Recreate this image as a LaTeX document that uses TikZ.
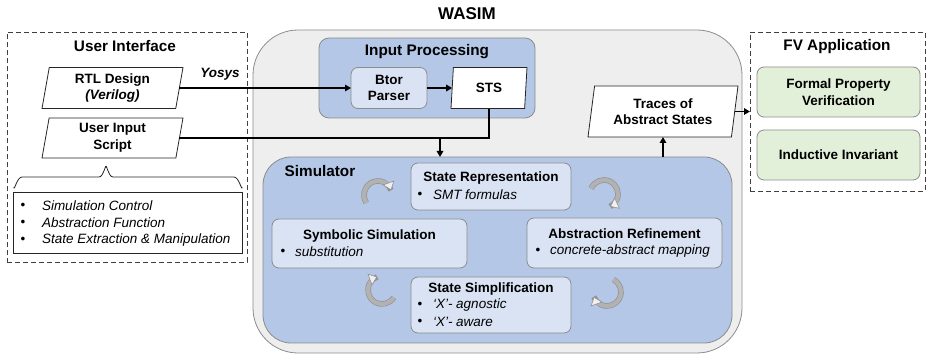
\documentclass[tikz,border=0pt]{standalone}
\usepackage{fontspec}
\setmainfont{Liberation Sans}
\usetikzlibrary{arrows.meta,shapes.geometric,calc}
\definecolor{cBlue}{HTML}{B4C7E7}
\definecolor{cLight}{HTML}{DAE3F3}
\definecolor{cGreen}{HTML}{E2F0D9}
\definecolor{cGray}{HTML}{EEEEEE}
\definecolor{cEdge}{HTML}{8C8C8C}
\begin{document}
\begin{tikzpicture}[x=1pt,y=-1pt,
  every node/.style={inner sep=0pt, outer sep=0pt},
  ttl/.style={font=\fontsize{15.3}{18}\selectfont\bfseries},
  bigttl/.style={font=\fontsize{17}{20}\selectfont\bfseries},
  btxt/.style={font=\fontsize{13.5}{16.5}\selectfont\bfseries, align=center},
  itxt/.style={font=\fontsize{13.5}{16.5}\selectfont\itshape, anchor=west},
  bul/.style={font=\fontsize{13.5}{16.5}\selectfont},
  dashbox/.style={draw=black!75, dash pattern=on 5pt off 3pt, line width=0.8pt},
  para/.style={trapezium, trapezium left angle=76, trapezium right angle=104,
    trapezium stretches body, draw=black!85, fill=white, line width=0.8pt, btxt},
  outerbox/.style={draw=cEdge, fill=cGray, line width=0.8pt},
  bluebox/.style={draw=cEdge, fill=cBlue, line width=0.8pt},
  lbox/.style={draw=cEdge, fill=cLight, rounded corners=7pt, line width=0.8pt},
  gbox/.style={draw=cEdge, fill=cGreen, rounded corners=7pt, line width=0.8pt},
  plain/.style={draw=black, line width=1.5pt},
  conn/.style={draw=black, line width=1.5pt, -{Triangle[length=6pt,width=6.5pt]}},
  cyc/.style={draw=gray!60, line width=4.2pt,
    preaction={draw=gray!85, line width=5.6pt, -},
    -{Triangle[length=8pt,width=12.5pt,line width=0.6pt,fill=gray!12,color=gray!85]}}
]
\useasboundingbox (0,0) rectangle (930,355);

% ---------- User Interface ----------
\node[dashbox, minimum width=240, minimum height=230] (ui) at (127,147) {};
\node[ttl] (uit) at (125,46) {User Interface};
\node[para, minimum width=141, minimum height=41] (rtl) at (112.5,88)
  {RTL Design\\\textit{(Verilog)}};
\node[para, minimum width=141, minimum height=40] (uis) at (112.5,138)
  {User Input\\Script};
\draw[line width=0.8pt, black!85] (14,187) to[out=-90,in=180] (22,177) -- (99,177)
  to[out=0,in=90] (106,167) to[out=90,in=180] (113,177) -- (234,177)
  to[out=0,in=-90] (242,187);
\node[draw=black!85, line width=0.8pt, minimum width=229, minimum height=61] (lst) at (127.5,222.5) {};
\node[bul] (b1) at (23,206) {•};
\node[bul] (b2) at (23,223) {•};
\node[bul] (b3) at (23,240) {•};
\node[itxt] (l1) at (42,206) {Simulation Control};
\node[itxt] (l2) at (42,223) {Abstraction Function};
\node[itxt] (l3) at (42,240) {State Extraction \& Manipulation};

% ---------- WASIM ----------
\node[bigttl] (wt) at (467,14) {WASIM};
\node[outerbox, rounded corners=45pt, minimum width=489, minimum height=323] (wasim) at (497.5,191.5) {};
\node[bluebox, rounded corners=10pt, minimum width=216, minimum height=80] (ip) at (427,78) {};
\node[ttl] (ipt) at (427,52) {Input Processing};
\node[lbox, btxt, minimum width=76, minimum height=41] (btor) at (389,88) {Btor\\Parser};
\node[para, minimum width=76, minimum height=41] (sts) at (489,88) {STS};

\node[para, minimum width=150, minimum height=51] (traces) at (663,111.5)
  {Traces of\\Abstract States};

% Simulator
\node[bluebox, rounded corners=28pt, minimum width=469, minimum height=186] (sim) at (497.5,250) {};
\node[ttl] (simt) at (320,171) {Simulator};

\node[lbox, minimum width=160, minimum height=47] (srep) at (491,186.5) {};
\node[btxt] (srept) at (491,178) {State Representation};
\node[bul] (srepb) at (420,195) {•};
\node[itxt] (srepi) at (433,195) {SMT formulas};

\node[lbox, minimum width=195, minimum height=49] (symsim) at (369.5,243.5) {};
\node[btxt] (symsimt) at (369.5,236) {Symbolic Simulation};
\node[bul] (symsimb) at (283,252) {•};
\node[itxt] (symsimi) at (295,252) {substitution};

\node[lbox, minimum width=195, minimum height=50] (absref) at (624.5,243) {};
\node[btxt] (absreft) at (624.5,234) {Abstraction Refinement};
\node[bul] (absrefb) at (538,251) {•};
\node[itxt] (absrefi) at (550,251) {concrete-abstract mapping};

\node[lbox, minimum width=160, minimum height=56] (simp) at (491,305) {};
\node[btxt] (simpt) at (491,289) {State Simplification};
\node[bul] (simpb1) at (420,305) {•};
\node[itxt] (simpi1) at (433,305) {‘X’- agnostic};
\node[bul] (simpb2) at (420,322) {•};
\node[itxt] (simpi2) at (433,322) {‘X’- aware};

% cycle arrows
\draw[cyc] (378,195) ++(-214:14) arc[start angle=-214, end angle=-20, radius=14];
\draw[cyc] (604,194) ++(-157:14) arc[start angle=-157, end angle=64, radius=14];
\draw[cyc] (607,292) ++(-63:14) arc[start angle=-63, end angle=160, radius=14];
\draw[cyc] (382,290) ++(32:14) arc[start angle=32, end angle=250, radius=14];

% ---------- FV Application ----------
\node[dashbox, minimum width=175, minimum height=159] (fv) at (837.5,111.5) {};
\node[ttl] (fvt) at (837,47) {FV Application};
\node[gbox, btxt, minimum width=163, minimum height=50] (fpv) at (838.5,92) {Formal Property\\Verification};
\node[gbox, btxt, minimum width=163, minimum height=50] (inv) at (838.5,155) {Inductive Invariant};

% ---------- connectors ----------
\draw[conn] (rtl.east |- btor.west) -- (btor.west);
\node[btxt, font=\fontsize{13.5}{16.5}\selectfont\bfseries\itshape] (yosys) at (220,74) {Yosys};
\draw[conn] (btor.east) -- (btor.east -| sts.west);
\draw[plain] (uis.east) -- (uis.east -| sts.center) -- (sts.center |- sts.south);
\coordinate (jn) at (440,138);
\draw[conn] (jn) -- (jn |- sim.north);
\draw[conn] (traces.center |- sim.north) -- (traces.center |- traces.south);
\draw[conn] (traces.east) -- (traces.east -| fv.west);
\end{tikzpicture}
\end{document}
